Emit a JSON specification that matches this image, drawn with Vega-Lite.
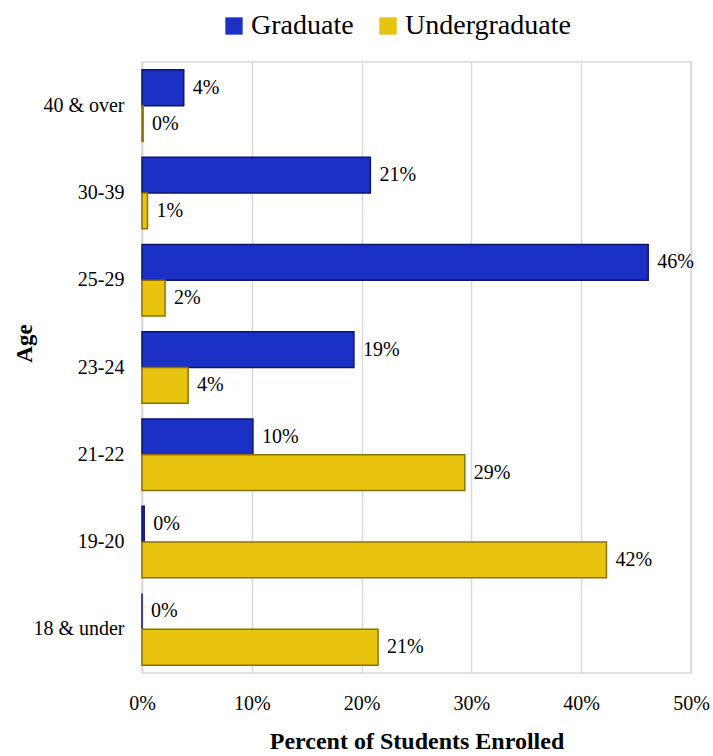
{
  "$schema": "https://vega.github.io/schema/vega-lite/v6.json",
  "width": 549,
  "height": 611,
  "autosize": {"type": "none"},
  "padding": {"left": 142, "top": 62, "right": 22, "bottom": 83},
  "background": "white",
  "config": {
    "font": "Liberation Serif",
    "view": {"stroke": "#d9d9d9", "strokeWidth": 1.5}
  },
  "data": {
    "values": [
      {"age": "40 & over", "level": "Graduate", "pct": 3.8, "label": "4%"},
      {"age": "40 & over", "level": "Undergraduate", "pct": 0.1, "label": "0%"},
      {"age": "30-39", "level": "Graduate", "pct": 20.8, "label": "21%"},
      {"age": "30-39", "level": "Undergraduate", "pct": 0.5, "label": "1%"},
      {"age": "25-29", "level": "Graduate", "pct": 46.1, "label": "46%"},
      {"age": "25-29", "level": "Undergraduate", "pct": 2.1, "label": "2%"},
      {"age": "23-24", "level": "Graduate", "pct": 19.3, "label": "19%"},
      {"age": "23-24", "level": "Undergraduate", "pct": 4.2, "label": "4%"},
      {"age": "21-22", "level": "Graduate", "pct": 10.1, "label": "10%"},
      {"age": "21-22", "level": "Undergraduate", "pct": 29.4, "label": "29%"},
      {"age": "19-20", "level": "Graduate", "pct": 0.2, "label": "0%"},
      {"age": "19-20", "level": "Undergraduate", "pct": 42.3, "label": "42%"},
      {"age": "18 & under", "level": "Graduate", "pct": 0, "label": "0%"},
      {"age": "18 & under", "level": "Undergraduate", "pct": 21.5, "label": "21%"}
    ]
  },
  "encoding": {
    "y": {
      "field": "age",
      "type": "nominal",
      "sort": ["40 & over", "30-39", "25-29", "23-24", "21-22", "19-20", "18 & under"],
      "scale": {"paddingInner": 0.18, "paddingOuter": 0.09},
      "axis": {
        "title": "Age",
        "titleFont": "Liberation Serif",
        "titleFontSize": 23,
        "titleFontWeight": "bold",
        "titleColor": "black",
        "titleX": -106,
        "titleY": 281,
        "labelFont": "Liberation Serif",
        "labelFontSize": 20,
        "labelColor": "black",
        "labelPadding": 18,
        "ticks": false,
        "domainColor": "#d9d9d9",
        "domainWidth": 1.5
      }
    },
    "yOffset": {
      "field": "level",
      "type": "nominal",
      "sort": ["Graduate", "Undergraduate"],
      "scale": {"paddingInner": 0, "paddingOuter": 0}
    },
    "x": {
      "field": "pct",
      "type": "quantitative",
      "scale": {"domain": [0, 50], "nice": false},
      "axis": {
        "title": "Percent of Students Enrolled",
        "titleFont": "Liberation Serif",
        "titleFontSize": 24,
        "titleFontWeight": "bold",
        "titleColor": "black",
        "titlePadding": 16,
        "labelFont": "Liberation Serif",
        "labelFontSize": 20,
        "labelColor": "black",
        "labelPadding": 20,
        "labelFlush": false,
        "labelExpr": "datum.value + '%'",
        "values": [0, 10, 20, 30, 40, 50],
        "ticks": false,
        "domain": false,
        "grid": true,
        "gridColor": "#d9d9d9",
        "gridWidth": 1.5
      }
    }
  },
  "layer": [
    {
      "mark": {"type": "bar", "strokeWidth": 1.5},
      "encoding": {
        "color": {
          "field": "level",
          "type": "nominal",
          "sort": ["Graduate", "Undergraduate"],
          "scale": {"domain": ["Graduate", "Undergraduate"], "range": ["#1b30c4", "#e8c30f"]},
          "legend": {
            "title": null,
            "orient": "none",
            "direction": "horizontal",
            "legendX": 78,
            "legendY": -50,
            "symbolType": "square",
            "symbolSize": 300,
            "symbolStrokeWidth": 0,
            "labelFont": "Liberation Serif",
            "labelFontSize": 28,
            "labelColor": "black",
            "labelLimit": 400,
            "labelOffset": 3,
            "columnPadding": 20
          }
        },
        "stroke": {
          "field": "level",
          "type": "nominal",
          "scale": {"domain": ["Graduate", "Undergraduate"], "range": ["#0b1670", "#8c7300"]},
          "legend": null
        }
      }
    },
    {
      "mark": {"type": "text", "align": "left", "baseline": "middle", "dx": 9, "font": "Liberation Serif", "fontSize": 20, "color": "black"},
      "encoding": {
        "text": {"field": "label"}
      }
    }
  ]
}
